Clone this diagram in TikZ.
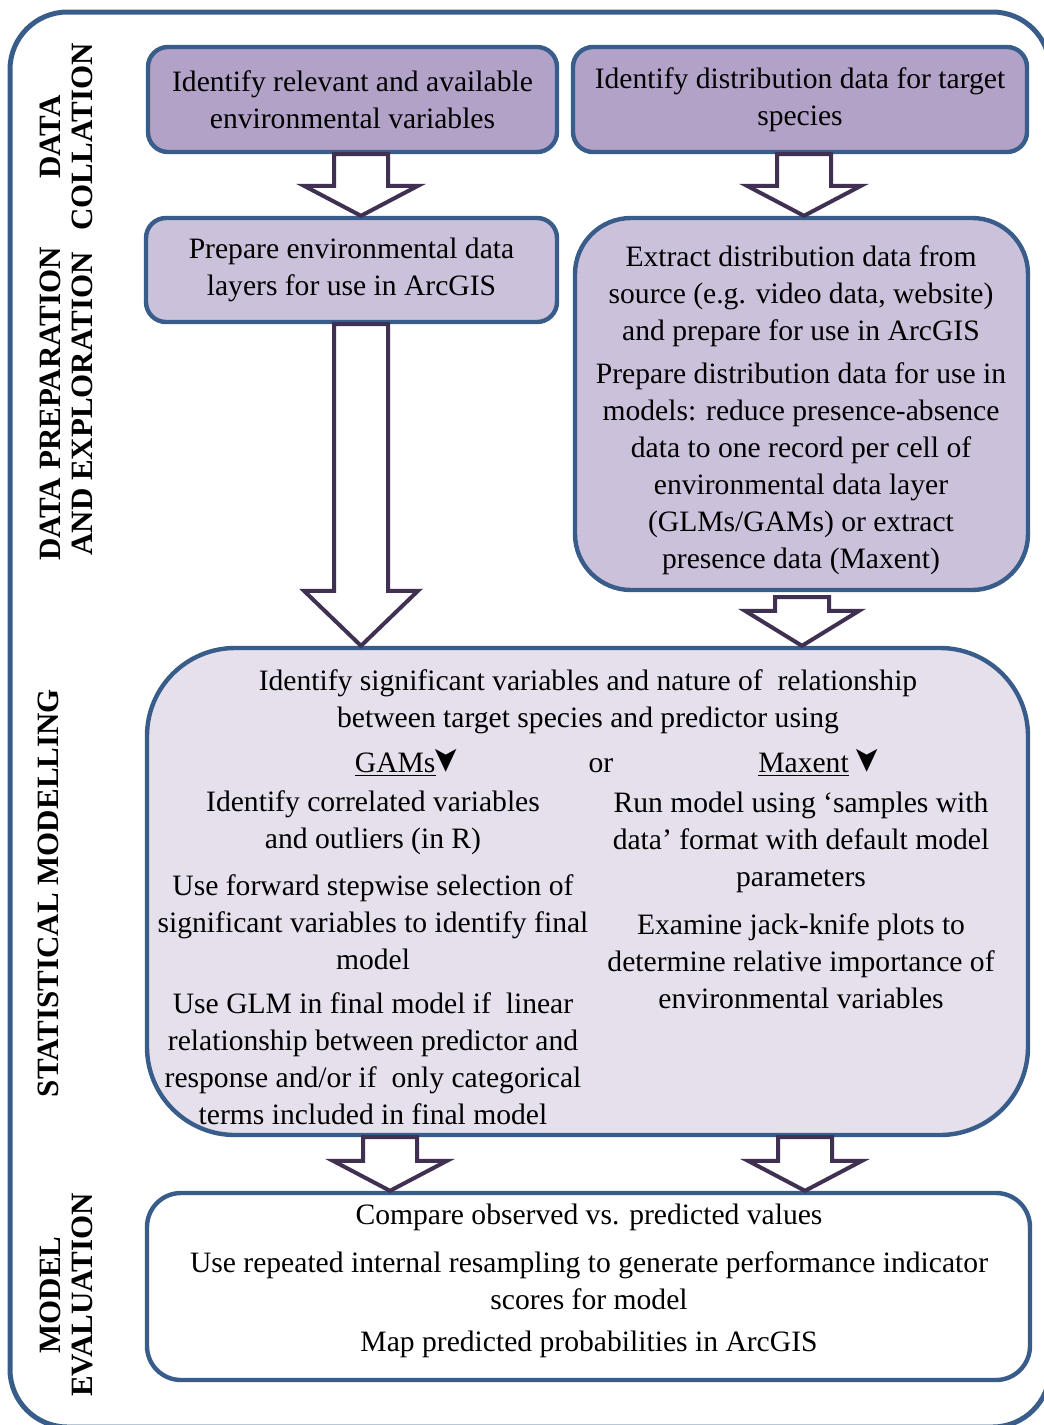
\documentclass[tikz,border=0pt]{standalone}
\usepackage{fontspec}
\setmainfont{Liberation Serif}
\newfontfamily\symfont{DejaVu Sans}
\usepackage{graphicx}
\usetikzlibrary{calc}
\definecolor{frameblue}{HTML}{385D8A}
\definecolor{lavdark}{HTML}{B3A2C7}
\definecolor{lavmid}{HTML}{CCC1DA}
\definecolor{lavpale}{HTML}{E5E0EC}
\definecolor{arrowink}{HTML}{403152}
\newcommand{\downtip}{{\symfont\fontsize{17}{17}\selectfont\raisebox{0.05em}{\rotatebox[origin=c]{-90}{➤}}}}
\tikzset{
  stagebox/.style={draw=frameblue,line width=2.2pt,rounded corners=#1,inner sep=0pt,
    font=\fontsize{14.8}{18.5}\selectfont,align=center},
  stagebox/.default=10pt,
  txt/.style={font=\fontsize{14.8}{18.5}\selectfont,align=center,inner sep=0pt},
  phase/.style={rotate=90,font=\fontsize{15.5}{16}\selectfont\bfseries,align=center,inner sep=0pt},
  blockarrow/.style={draw=arrowink,fill=white,line width=2pt,line join=miter,
    to path={let \p1=(\tikztostart), \p2=(\tikztotarget) in
      (\x1-13.5pt,\y1) -- (\x1-13.5pt,\y2+#1) -- (\x1-28.5pt,\y2+#1) -- (\x1,\y2)
      -- (\x1+28.5pt,\y2+#1) -- (\x1+13.5pt,\y2+#1) -- (\x1+13.5pt,\y1) -- cycle}},
  blockarrow/.default=15pt,
}

\begin{document}
\begin{tikzpicture}[x=0.5pt,y=-0.5pt]
  \useasboundingbox (0,0) rectangle (1044,1425);
  \clip (0,0) rectangle (1044,1425);
  % outer frame
  \draw[frameblue,line width=2.5pt,rounded corners=28.75pt] (10,12) rectangle (1050,1427);

  % phase labels
  \node[phase] (lcoll) at (66,137) {DATA\\COLLATION};
  \node[phase] (lprep) at (66,404) {DATA PREPARATION\\AND EXPLORATION};
  \node[phase] (lstat) at (48,893) {STATISTICAL MODELLING};
  \node[phase] (leval) at (66,1295) {MODEL\\EVALUATION};

  % boxes
  \node[stagebox,fill=lavdark,minimum width=204.5pt,minimum height=52.5pt] (envvar) at (352.5,99.5)
    {Identify relevant and available\\environmental variables};
  \node[stagebox,fill=lavdark,minimum width=227pt,minimum height=52.5pt] (distid) at (800,99.5)
    {Identify distribution data for target\\species};
  \node[stagebox,fill=lavmid,minimum width=205.5pt,minimum height=52pt] (envprep) at (351.5,270)
    {Prepare environmental data\\layers for use in ArcGIS};
  \node[stagebox=28pt,fill=lavmid,minimum width=226.5pt,minimum height=186pt] (distprep) at (801.5,404) {};
  \node[stagebox=44pt,fill=lavpale,minimum width=440.5pt,minimum height=243.5pt] (stats) at (587.5,891.5) {};
  \node[stagebox=17pt,fill=white,minimum width=441.5pt,minimum height=93.5pt] (evalbox) at (588.5,1286.5) {};

  % text of the distribution box
  \node[txt] (d1) at (801,296) {Extract distribution data from\\source (e.g. video data, website)\\and prepare for use in ArcGIS};
  \node[txt] (d2) at (801,469) {Prepare distribution data for use in\\models: reduce presence-absence\\data to one record per cell of\\environmental data layer\\(GLMs/GAMs) or extract\\presence data (Maxent)};

  % text of the modelling box
  \node[txt] (s0) at (588,702) {Identify significant variables and nature of\ \ relationship\\between target species and predictor using};
  \node[txt,anchor=base] (gam) at (406,772) {\underline{GAMs}\downtip};
  \node[txt,anchor=base] (or) at (601,772) {or};
  \node[txt,anchor=base] (mx) at (818,772) {\underline{Maxent}\ \downtip};
  \node[txt] (g1) at (373,822.5) {Identify correlated variables\\and outliers (in R)};
  \node[txt] (g2) at (373,922) {Use forward stepwise selection of\\significant variables to identify final\\model};
  \node[txt] (g3) at (373,1059) {Use GLM in final model if\ \ linear\\relationship between predictor and\\response and/or if\ \ only categorical\\terms included in final model};
  \node[txt] (m1) at (801,842.5) {Run model using ‘samples with\\data’ format with default model\\parameters};
  \node[txt] (m2) at (801,961) {Examine jack-knife plots to\\determine relative importance of\\environmental variables};

  % text of the evaluation box
  \node[txt] (e1) at (589,1217) {Compare observed vs. predicted values};
  \node[txt] (e2) at (589,1280.5) {Use repeated internal resampling to generate performance indicator\\scores for model};
  \node[txt] (e3) at (589,1344) {Map predicted probabilities in ArcGIS};

  % block arrows
  \coordinate (a1) at ($(envvar.south)+(8.5,0)$);
  \coordinate (a2) at ($(distid.south)+(4,0)$);
  \coordinate (a3) at ($(envprep.south)+(9.5,0)$);
  \coordinate (a4) at ($(distprep.south)+(0.5,5)$);
  \coordinate (a5) at ($(stats.south)+(-197.5,0)$);
  \coordinate (a6) at ($(stats.south)+(217.5,0)$);
  \draw[blockarrow] (a1) to (envprep.north);
  \draw[blockarrow] (a2) to (distprep.north);
  \draw[blockarrow=27.5pt] (a3) to (stats.north);
  \draw[blockarrow=17.5pt] (a4) to (stats.north);
  \draw[blockarrow] (a5) to (evalbox.north);
  \draw[blockarrow] (a6) to (evalbox.north);
\end{tikzpicture}
\end{document}
